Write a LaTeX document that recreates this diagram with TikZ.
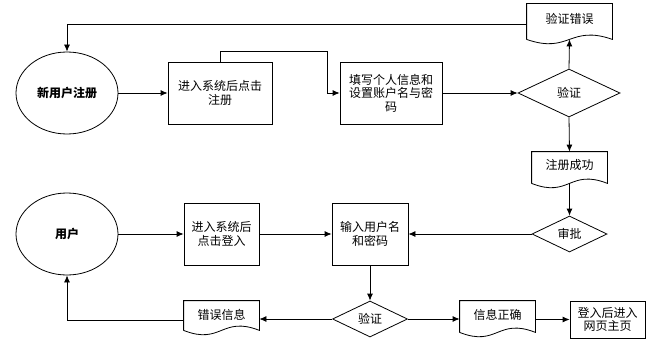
\documentclass[tikz,border=0pt]{standalone}
\usepackage{fontspec}
\setmainfont{Noto Sans CJK SC}
\usetikzlibrary{arrows.meta,shapes.geometric,calc}
\newcommand\docpath[1]{\draw[fill=white] (#1.south west) -- (#1.north west) -- (#1.north east) -- (#1.south east) .. controls ([yshift=15pt]#1.south) and ([yshift=-15pt]#1.south) .. (#1.south west);}
\begin{document}
\begin{tikzpicture}[x=1pt,y=-1pt,
  font=\fontsize{12}{13.5}\selectfont,
  line width=0.8pt,
  arr/.style={-{Latex[length=7pt,width=6pt]}},
  proc/.style={draw, rectangle, align=center, inner sep=2pt, fill=white},
  term/.style={draw, ellipse, inner sep=0pt, minimum width=102pt, minimum height=82pt, font=\fontsize{12}{13.5}\selectfont\bfseries},
  dec/.style={draw, diamond, aspect=2, inner sep=0pt, fill=white},
  docnode/.style={rectangle, align=center, inner sep=0pt},
]
\useasboundingbox (0,0) rectangle (652,342);
% top row
\node[term] (reg) at (67,93) {新用户注册};
\node[proc, minimum width=104pt, minimum height=62pt] (b1) at (220,93) {进入系统后点击\\注册};
\node[proc, minimum width=102pt, minimum height=62pt] (b2) at (391,93) {填写个人信息和\\设置账户名与密\\码};
\node[dec, minimum width=102pt, minimum height=48pt] (v1) at (569,93) {验证};
\node[docnode, minimum width=85pt, minimum height=35pt] (e1) at (569.5,21.5) {};
\docpath{e1}
\node at (569.5,19) {验证错误};
\node[docnode, minimum width=75pt, minimum height=31pt] (ok1) at (569.5,167.5) {};
\docpath{ok1}
\node at (569.5,165) {注册成功};
\node[dec, minimum width=75pt, minimum height=36pt] (ap) at (569.5,234) {审批};
% bottom row
\node[term] (user) at (67,234) {用户};
\node[proc, minimum width=75pt, minimum height=62pt] (b3) at (221.5,234) {进入系统后\\点击登入};
\node[proc, minimum width=76pt, minimum height=62pt] (b4) at (370,234) {输入用户名\\和密码};
\node[dec, minimum width=75pt, minimum height=36pt] (v2) at (370,319) {验证};
\node[docnode, minimum width=75pt, minimum height=29pt] (err) at (221.5,315.5) {};
\docpath{err}
\node at (221.5,315) {错误信息};
\node[docnode, minimum width=75pt, minimum height=31pt] (ok2) at (497.5,316.5) {};
\docpath{ok2}
\node at (497.5,315) {信息正确};
\node[proc, minimum width=75pt, minimum height=37pt] (b5) at (607.5,319.5) {登入后进入\\网页主页};
% connectors
\draw[arr] (reg.east) -- (b1.west);
\draw[arr] (b1.north) -- ++(0,-10) -| ($(b2.west)+(-12pt,0)$) -- (b2.west);
\draw[arr] (b2.east) -- (v1.west);
\draw[arr] (v1.north) -- (e1.south);
\draw[arr] ([yshift=-2.5pt]e1.west) -| (reg.north);
\draw[arr] (v1.south) -- (ok1.north);
\draw[arr] (ok1.south) -- (ap.north);
\draw[arr] (ap.west) -- (b4.east);
\draw[arr] (user.east) -- (b3.west);
\draw[arr] (b3.east) -- (b4.west);
\draw[arr] (b4.south) -- (v2.north);
\draw[arr] (v2.east) -- (v2.east -| ok2.west);
\draw[arr] (ok2.east |- b5.west) -- (b5.west);
\draw[arr] (v2.west) -- (v2.west -| err.east);
\draw[arr] ([yshift=-4.5pt]err.west) -| (user.south);
\end{tikzpicture}
\end{document}
